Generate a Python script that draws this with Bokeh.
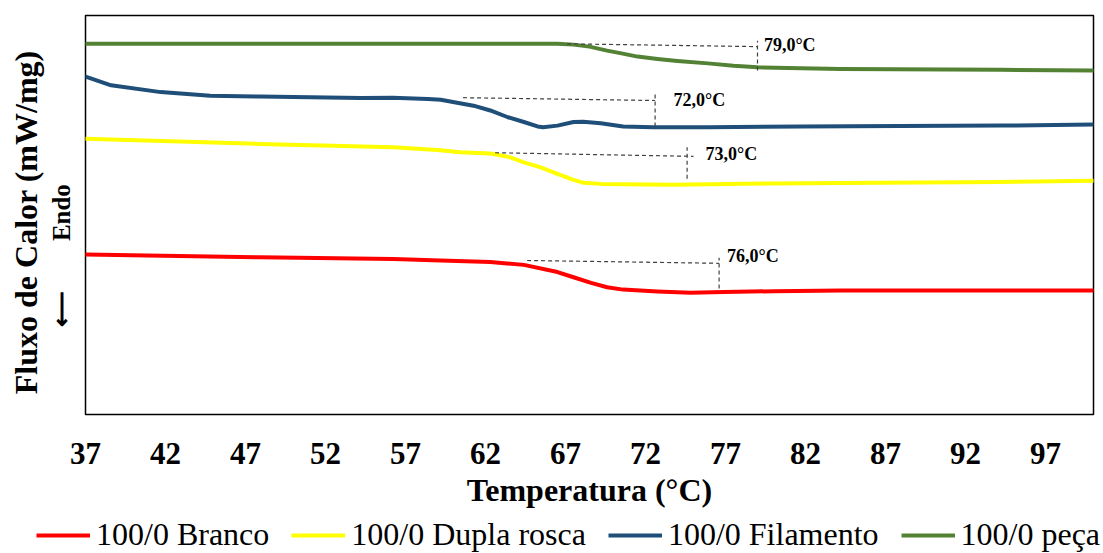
from bokeh.plotting import figure
from bokeh.layouts import column, row
from bokeh.models import (Range1d, FixedTicker, Legend, LegendItem, LinearAxis)
from bokeh.core.properties import value
from bokeh.embed import file_html
from bokeh.resources import INLINE

# ---------------- data ----------------
x_ticks = [37, 42, 47, 52, 57, 62, 67, 72, 77, 82, 87, 92, 97]

series_names = ["100/0 Branco", "100/0 Dupla rosca", "100/0 Filamento", "100/0 peça"]
series_colors = ["#FF0000", "#FFFF00", "#1F4E79", "#548235"]

temp_branco = [37, 47.9, 56.25, 59.2, 62.3, 64.4, 66.5, 67.5, 68.6, 69.6, 70.6, 72.75, 74.8, 76.9, 80, 84.2, 100]
branco = [4.01, 3.94, 3.90, 3.86, 3.82, 3.75, 3.57, 3.44, 3.30, 3.19, 3.13, 3.08, 3.05, 3.07, 3.09, 3.11, 3.11]

temp_dupla = [37, 47.9, 56.25, 59.2, 60.4, 62.3, 63.5, 64.4, 65.4, 66.5, 67.5, 68.1, 69.2, 73.75, 80, 84.2, 94.2, 100]
dupla = [6.91, 6.78, 6.70, 6.62, 6.57, 6.54, 6.45, 6.32, 6.20, 6.03, 5.88, 5.81, 5.78, 5.76, 5.79, 5.80, 5.83, 5.86]

temp_filamento = [37, 38.6, 41.7, 44.8, 47.9, 54.2, 56.2, 58.4, 59.2, 61.25, 62.3, 63.4, 64.4, 65.25, 65.6,
                  66.5, 67.5, 68.1, 69.2, 70.6, 72.5, 75.9, 81.7, 87.9, 94.2, 100]
filamento = [8.47, 8.25, 8.08, 7.99, 7.97, 7.93, 7.94, 7.91, 7.89, 7.74, 7.62, 7.45, 7.33, 7.22, 7.20,
             7.24, 7.33, 7.34, 7.30, 7.22, 7.20, 7.20, 7.22, 7.23, 7.24, 7.27]

temp_peca = [37, 50, 62, 66.5, 67.5, 68.5, 69.6, 70.5, 71.5, 72.75, 74, 75.9, 77.5, 79.0, 84.2, 94.2, 100]
peca = [9.29, 9.29, 9.29, 9.29, 9.27, 9.22, 9.12, 9.05, 8.97, 8.91, 8.86, 8.80, 8.74, 8.70, 8.66, 8.64, 8.62]

# onset construction lines (Branco, Dupla rosca, Filamento, peça)
onset_labels = ["76,0°C", "73,0°C", "72,0°C", "79,0°C"]
h_x0 = [64.6, 62.6, 60.6, 67.1]
h_y0 = [3.86, 6.56, 7.94, 9.29]
h_x1 = [76.6, 75.0, 72.6, 79.0]
h_y1 = [3.79, 6.47, 7.87, 9.22]
v_x = [76.6, 74.6, 72.6, 79.0]
v_y0 = [3.16, 5.91, 7.22, 8.62]
v_y1 = [3.93, 6.70, 8.02, 9.37]
lab_x = [77.1, 75.75, 73.75, 79.4]
lab_y = [3.98, 6.52, 7.87, 9.25]

y_title = "Fluxo de Calor (mW/mg)" + "\u00a0\u2009"
y_subtitle = "\u27f5" + "\u00a0" * 8 + "Endo" + "\u00a0" * 13
x_title = "Temperatura (°C)"

# ---------------- main figure ----------------
SERIF = "Liberation Serif"

p = figure(width=1100, height=515, output_backend="svg", toolbar_location=None,
           x_range=Range1d(37, 100), y_range=Range1d(0, 10),
           y_axis_location=None)
p.min_border_left = 85
p.min_border_right = 7
p.min_border_top = 15
p.min_border_bottom = 101
p.xgrid.visible = False
p.ygrid.visible = False
p.outline_line_color = "black"
p.outline_line_width = 1.5
p.background_fill_color = "white"
p.border_fill_color = "white"

ax = p.xaxis[0]
ax.ticker = FixedTicker(ticks=x_ticks)
ax.axis_line_color = None
ax.major_tick_line_color = None
ax.minor_tick_line_color = None
ax.major_tick_out = 0
ax.major_tick_in = 0
ax.major_label_standoff = 28
ax.major_label_text_font = SERIF
ax.major_label_text_font_style = "bold"
ax.major_label_text_font_size = "31px"
ax.major_label_text_color = "black"
ax.axis_label = x_title
ax.axis_label_text_font = SERIF
ax.axis_label_text_font_style = "bold"
ax.axis_label_text_font_size = "32px"
ax.axis_label_text_color = "black"
ax.axis_label_standoff = 5


def label_axis(text, size, standoff):
    return LinearAxis(ticker=FixedTicker(ticks=[]), axis_line_color=None,
                      major_tick_line_color=None, minor_tick_line_color=None,
                      major_tick_out=0, major_tick_in=0, major_label_text_font_size="0px",
                      axis_label=text, axis_label_text_font=SERIF, axis_label_text_font_style="bold",
                      axis_label_text_font_size=size, axis_label_text_color="black",
                      axis_label_standoff=standoff)


p.add_layout(label_axis(y_subtitle, "25px", 11), "left")
p.add_layout(label_axis(y_title, "32px", 1), "left")

xs = [temp_branco, temp_dupla, temp_filamento, temp_peca]
ys = [branco, dupla, filamento, peca]
for tx, vy, c in zip(xs, ys, series_colors):
    p.line(tx, vy, line_color=c, line_width=4, line_join="round", line_cap="round")

# dashed onset construction lines
p.segment(x0=h_x0, y0=h_y0, x1=h_x1, y1=h_y1, line_color="#404040", line_width=1.2, line_dash="4 3")
p.segment(x0=v_x, y0=v_y0, x1=v_x, y1=v_y1, line_color="#404040", line_width=1.2, line_dash="4 3")
p.text(x=lab_x, y=lab_y, text=onset_labels, text_font=value(SERIF), text_font_style="bold",
       text_font_size="18px", text_color="black", text_align="left", text_baseline="middle")

# ---------------- legend strip (same series, outside its view, only feeding the legend) ----------------
q = figure(width=1103, height=38, output_backend="svg", toolbar_location=None,
           x_range=Range1d(0, 1), y_range=Range1d(0, 1),
           x_axis_location=None, y_axis_location=None)
q.min_border = 0
q.min_border_left = 0
q.min_border_right = 0
q.min_border_top = 0
q.min_border_bottom = 0
q.xgrid.visible = False
q.ygrid.visible = False
q.outline_line_color = None
q.background_fill_color = "white"
q.border_fill_color = "white"

items = []
for n, c, tx, vy in zip(series_names, series_colors, xs, ys):
    r = q.line(tx, vy, line_color=c, line_width=4)
    items.append(LegendItem(label=n, renderers=[r]))

legend = Legend(items=items, orientation="horizontal", location=(36, 0))
legend.label_text_font = SERIF
legend.label_text_font_size = "32px"
legend.label_text_color = "black"
legend.glyph_width = 54
legend.glyph_height = 20
legend.label_standoff = 6
legend.spacing = 22
legend.padding = 0
legend.margin = 0
legend.border_line_color = None
legend.background_fill_alpha = 0
q.add_layout(legend)

layout = column(p, row(q, spacing=0), spacing=0)
open("out.html", "w").write(file_html(layout, INLINE))
